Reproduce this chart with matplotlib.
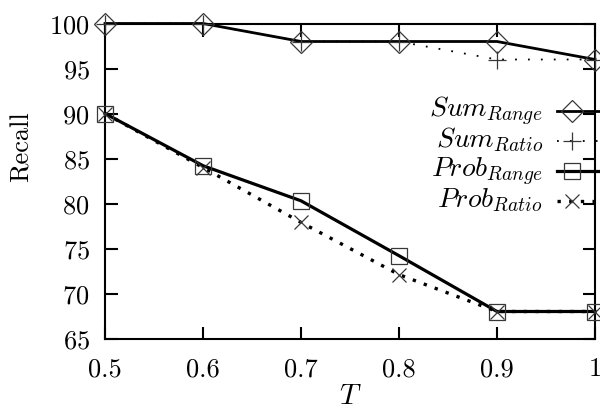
import matplotlib
matplotlib.use("Agg")
import matplotlib.pyplot as plt
from matplotlib.lines import Line2D

plt.rcParams['font.family'] = ['cmr10', 'DejaVu Serif']
plt.rcParams['mathtext.fontset'] = 'cm'
plt.rcParams['axes.formatter.use_mathtext'] = True
plt.rcParams['lines.scale_dashes'] = False

# ---- data ----
T = [0.5, 0.6, 0.7, 0.8, 0.9, 1.0]
sum_range = [100, 100, 98, 98, 98, 96]
sum_ratio = [100, 100, 98, 98, 96, 96]
prob_range = [90, 84.2, 80.3, 74.2, 68, 68]
prob_ratio = [90, 84, 77.9, 72.1, 68, 68]
labels = [r'$Sum_{Range}$', r'$Sum_{Ratio}$', r'$Prob_{Range}$', r'$Prob_{Ratio}$']
xticks = [0.5, 0.6, 0.7, 0.8, 0.9, 1.0]
xticklabels = ['0.5', '0.6', '0.7', '0.8', '0.9', '1']
yticks = [65, 70, 75, 80, 85, 90, 95, 100]

W, H = 600, 410
fig = plt.figure(figsize=(W / 100, H / 100), dpi=100)
ax = fig.add_axes([105 / W, 1 - 339.5 / H, 490 / W, 315 / H])

mc = '#383838'
styles = [
    dict(color='black', lw=2.0, ls='-', marker='D', ms=11.5),
    dict(color='black', lw=1.3, ls=(0, (1.3, 8.0)), marker='+', ms=13),
    dict(color='black', lw=2.3, ls='-', marker='s', ms=12),
    dict(color='black', lw=2.4, ls=(0, (2.4, 6.0)), marker='x', ms=9.5),
]
series = [sum_range, sum_ratio, prob_range, prob_ratio]

for ys, st in zip(series, styles):
    ax.plot(T, ys, color=st['color'], lw=st['lw'], ls=st['ls'],
            marker=st['marker'], ms=st['ms'], mfc='none', mec=mc, mew=0.9,
            clip_on=False, zorder=3)

ax.set_xlim(0.5, 1.0)
ax.set_ylim(65, 100)
ax.set_xticks(xticks)
ax.set_xticklabels(xticklabels)
ax.set_yticks(yticks)
ax.tick_params(axis='both', which='major', direction='in', length=9, width=1.5,
               top=True, right=True, labelsize=19)
ax.tick_params(axis='y', pad=11)
ax.tick_params(axis='x', pad=13)
for sp in ax.spines.values():
    sp.set_linewidth(1.5)

ax.set_ylabel('Recall', fontsize=19, va='center')
ax.yaxis.set_label_coords((22 - 105) / 490, 1 - (147 - 24.5) / 315)
ax.set_xlabel(r'$T$', fontsize=21, va='center')
ax.xaxis.set_label_coords(0.5, (339.5 - 397) / 315)

# ---- legend (gnuplot style, right-aligned text) ----
row0, dy = 112, 30
for i, (lab, st) in enumerate(zip(labels, styles)):
    y = 1 - (row0 + i * dy) / H
    fig.add_artist(Line2D([557 / W, 602 / W], [y, y], transform=fig.transFigure,
                          color=st['color'], lw=st['lw'], ls=st['ls']))
    fig.add_artist(Line2D([572 / W], [y], transform=fig.transFigure,
                          marker=st['marker'], ms=st['ms'], mfc='none', mec=mc,
                          mew=0.9, ls='none'))
    fig.text(543 / W, 1 - (row0 + i * dy + 5) / H, lab, ha='right',
             va='baseline', fontsize=20)

fig.savefig('out.png', dpi=100)
